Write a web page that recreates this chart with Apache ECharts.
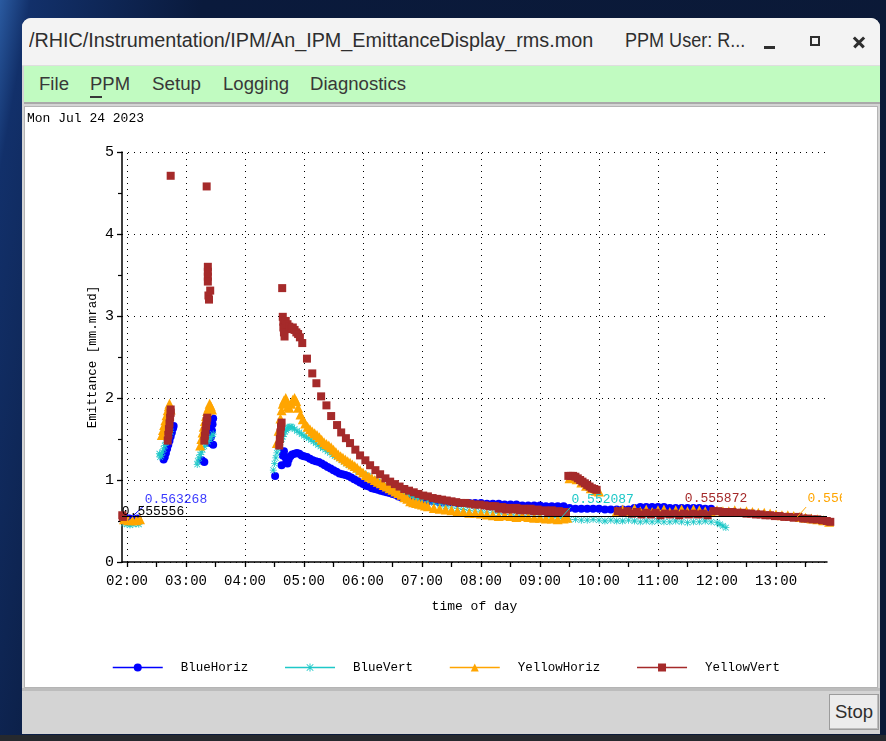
<!DOCTYPE html>
<html><head><meta charset="utf-8">
<script src="https://cdn.jsdelivr.net/npm/echarts@6/dist/echarts.min.js"></script>
<style>
html,body{margin:0;padding:0;}
body{width:886px;height:741px;overflow:hidden;position:relative;
 background:linear-gradient(100deg,#2a5aa0 0%,#12306a 3%,#0a1a3c 20%,#0b1936 100%);
 font-family:'Liberation Sans',Arial,sans-serif;}
.abs{position:absolute;}
#taskbar{left:0;top:735px;width:886px;height:6px;background:#26292e;}
#win{left:22px;top:18px;width:858px;height:716px;background:#d4d4d4;border-radius:9px 9px 0 0;overflow:hidden;}
#titlebar{left:0;top:0;width:858px;height:47px;background:#f3f3f3;border-bottom:1px solid #dedede;}
.fit{position:absolute;white-space:nowrap;transform-origin:0 50%;}
#menubar{left:2px;top:48px;width:856px;height:36px;background:#c1fbc1;border-bottom:2px solid #a9a9a9;}
#panel{left:2px;top:88px;width:852px;height:580px;background:#fff;border:1px solid #b4b4b4;}
#stop{left:807px;top:676px;width:48px;height:34px;background:#ececec;border:1px solid #9c9c9c;box-shadow:inset -1px -1px 0 #bdbdbd;}
#chart{position:absolute;left:24px;top:106px;width:818px;height:582px;}
</style></head>
<body>
<div id="taskbar" class="abs"></div>
<div id="win" class="abs">
  <div id="titlebar" class="abs">
    <span class="fit" data-w="564" style="left:7px;top:11px;font-size:20px;color:#2e2e2e;">/RHIC/Instrumentation/IPM/An_IPM_EmittanceDisplay_rms.mon</span>
    <span class="fit" data-w="120" style="left:603px;top:11px;font-size:20px;color:#2e2e2e;">PPM User: R...</span>
    <div class="abs" style="left:742px;top:28px;width:11px;height:3px;background:#2e2e2e;"></div>
    <div class="abs" style="left:788px;top:18px;width:6px;height:6px;border:2px solid #2e2e2e;"></div>
    <div class="abs" style="left:830px;top:23px;width:14px;height:2.5px;background:#2e2e2e;transform:rotate(45deg);"></div>
    <div class="abs" style="left:830px;top:23px;width:14px;height:2.5px;background:#2e2e2e;transform:rotate(-45deg);"></div>
  </div>
  <div id="menubar" class="abs">
    <span class="fit" data-w="30" style="left:15px;top:8px;font-size:18px;color:#383838;">File</span>
    <span class="fit" data-w="40" style="left:66px;top:8px;font-size:18px;color:#383838;">PPM</span>
    <div class="abs" style="left:66px;top:30px;width:12px;height:2px;background:#383838;"></div>
    <span class="fit" data-w="49" style="left:128px;top:8px;font-size:18px;color:#383838;">Setup</span>
    <span class="fit" data-w="66" style="left:199px;top:8px;font-size:18px;color:#383838;">Logging</span>
    <span class="fit" data-w="96" style="left:286px;top:8px;font-size:18px;color:#383838;">Diagnostics</span>
  </div>
  <div id="panel" class="abs"></div>
  <div class="abs" style="left:0;top:670px;width:858px;height:3px;background:#bcbcbc;"></div>
  <div id="stop" class="abs">
    <span class="fit" data-w="38" style="left:5px;top:6px;font-size:19px;color:#2e2e2e;">Stop</span>
  </div>
</div>
<div id="chart"></div>
<script>
// ---------------- data ----------------
const hourTicks = [2,3,4,5,6,7,8,9,10,11,12,13];
const halfTicks = [2,2.5,3,3.5,4,4.5,5,5.5,6,6.5,7,7.5,8,8.5,9,9.5,10,10.5,11,11.5,12,12.5,13,13.5];
const xRange = [1.915, 13.864];
const seriesNames = ['BlueHoriz','BlueVert','YellowHoriz','YellowVert'];
const refValue = 0.555556;

const blueHoriz = [
 [1.97,0.54],[2.04,0.53],[2.11,0.52],[2.18,0.53],
 [2.62,1.25],[2.64,1.28],[2.66,1.33],[2.68,1.38],[2.70,1.43],[2.72,1.48],[2.74,1.53],[2.76,1.58],[2.78,1.63],[2.79,1.66],
 [3.27,1.24],[3.31,1.22],[3.40,1.45],[3.42,1.52],[3.44,1.60],[3.45,1.68],[3.46,1.75],[3.46,1.43],
 [4.51,1.05],[4.62,1.18],[4.64,1.30],[4.66,1.35],[4.68,1.28],[4.70,1.22],[4.72,1.20],[4.74,1.25],[4.77,1.29],[4.80,1.31],
 [4.84,1.32],[4.88,1.33],[4.92,1.32],[4.96,1.30],[5.00,1.29],[5.05,1.28],[5.10,1.26],[5.15,1.24],[5.20,1.23],[5.25,1.22],
 [5.30,1.20],[5.35,1.18],[5.40,1.16],[5.45,1.14],[5.50,1.12],[5.55,1.10],[5.60,1.08],[5.65,1.07],[5.70,1.06],[5.75,1.05],
 [5.80,1.03],[5.85,1.01],[5.90,0.99],[5.95,0.97],[6.00,0.95],[6.05,0.93],[6.10,0.92],[6.15,0.90],[6.20,0.89],[6.25,0.88],
 [6.30,0.87],[6.35,0.86],[6.40,0.85],[6.45,0.84],[6.50,0.83],[6.55,0.82],[6.60,0.80],[6.65,0.79],[6.70,0.78],[6.75,0.78],
 [6.80,0.77],[6.85,0.76],[6.90,0.76],[6.95,0.75],[7.00,0.75],[7.10,0.74],[7.20,0.74],[7.30,0.73],[7.40,0.73],[7.50,0.73],
 [7.60,0.72],[7.70,0.72],[7.80,0.72],[7.90,0.72],[8.00,0.72],[8.10,0.71],[8.20,0.71],[8.30,0.71],[8.40,0.70],[8.50,0.70],
 [8.60,0.70],[8.70,0.69],[8.80,0.69],[8.90,0.69],[9.00,0.69],[9.10,0.68],[9.20,0.68],[9.30,0.68],[9.40,0.68],[9.50,0.66],
 [9.60,0.65],[9.70,0.65],[9.80,0.65],[9.90,0.65],[10.00,0.65],[10.10,0.64],[10.20,0.64],[10.30,0.64],[10.40,0.64],[10.50,0.64],
 [10.60,0.66],[10.70,0.67],[10.80,0.67],[10.90,0.67],[11.00,0.67],[11.10,0.67],[11.20,0.66],[11.30,0.66],[11.40,0.66],[11.50,0.66],
 [11.60,0.66],[11.70,0.66],[11.80,0.65],[11.90,0.65]
];
const blueVert = [
 [1.95,0.47],[2.00,0.46],[2.05,0.45],[2.10,0.46],[2.15,0.47],[2.20,0.46],
 [2.55,1.32],[2.56,1.28],[2.58,1.30],[2.60,1.34],[2.62,1.38],[2.64,1.42],[2.66,1.46],[2.68,1.50],[2.70,1.53],[2.72,1.56],[2.74,1.59],
 [3.19,1.19],[3.20,1.23],[3.22,1.27],[3.24,1.31],[3.26,1.34],[3.28,1.37],[3.31,1.41],[3.34,1.44],[3.37,1.47],[3.40,1.50],[3.43,1.53],[3.46,1.56],
 [4.48,1.12],[4.50,1.20],[4.52,1.27],[4.54,1.33],[4.56,1.38],[4.58,1.42],[4.60,1.46],[4.62,1.50],[4.64,1.53],[4.66,1.56],
 [4.68,1.59],[4.70,1.61],[4.72,1.63],[4.74,1.64],[4.76,1.65],[4.78,1.65],[4.80,1.64],[4.84,1.62],[4.88,1.60],[4.92,1.58],
 [4.96,1.56],[5.00,1.54],[5.04,1.52],[5.08,1.51],[5.12,1.49],[5.16,1.47],[5.20,1.45],[5.24,1.43],[5.28,1.41],[5.32,1.39],
 [5.36,1.37],[5.40,1.35],[5.44,1.33],[5.48,1.31],[5.52,1.29],[5.56,1.28],[5.60,1.26],[5.64,1.24],[5.68,1.22],[5.72,1.20],
 [5.76,1.18],[5.80,1.17],[5.84,1.15],[5.88,1.13],[5.92,1.11],[5.96,1.10],[6.00,1.08],[6.04,1.06],[6.08,1.05],[6.12,1.03],
 [6.16,1.01],[6.20,1.00],[6.24,0.98],[6.28,0.97],[6.32,0.95],[6.36,0.94],[6.40,0.93],[6.44,0.91],[6.48,0.90],[6.52,0.89],
 [6.56,0.88],[6.60,0.86],[6.64,0.85],[6.68,0.84],[6.72,0.83],[6.76,0.82],[6.80,0.81],[6.84,0.80],[6.88,0.79],[6.92,0.78],
 [6.96,0.77],[7.00,0.76],[7.10,0.74],[7.20,0.72],[7.30,0.70],[7.40,0.68],[7.50,0.66],[7.60,0.65],[7.70,0.64],[7.80,0.63],
 [7.90,0.62],[8.00,0.61],[8.10,0.60],[8.20,0.60],[8.30,0.59],[8.40,0.58],[8.50,0.58],[8.60,0.57],[8.70,0.57],[8.80,0.56],
 [8.90,0.56],[9.00,0.55],[9.10,0.55],[9.20,0.54],[9.30,0.54],[9.40,0.53],[9.50,0.52],[9.60,0.52],[9.70,0.51],[9.80,0.51],
 [9.90,0.52],[10.00,0.51],[10.10,0.50],[10.20,0.51],[10.30,0.50],[10.40,0.50],[10.50,0.51],[10.60,0.50],[10.70,0.49],[10.80,0.50],
 [10.90,0.49],[11.00,0.50],[11.10,0.49],[11.20,0.49],[11.30,0.50],[11.40,0.49],[11.50,0.48],[11.60,0.49],[11.70,0.49],[11.80,0.50],
 [11.90,0.49],[12.00,0.48],[12.05,0.46],[12.10,0.44],[12.15,0.42]
];
const yellowHoriz = [
 [1.95,0.52],[2.02,0.51],[2.09,0.51],[2.16,0.51],[2.22,0.52],
 [2.59,1.55],[2.61,1.61],[2.63,1.67],[2.65,1.73],[2.67,1.79],[2.69,1.85],[2.71,1.90],[2.72,1.93],[2.74,1.86],
 [3.24,1.42],[3.26,1.50],[3.28,1.58],[3.30,1.65],[3.32,1.72],[3.34,1.78],[3.36,1.84],[3.38,1.88],[3.40,1.93],[3.42,1.90],[3.44,1.86],
 [4.54,1.45],[4.57,1.60],[4.60,1.75],[4.62,1.85],[4.64,1.93],[4.66,1.97],[4.69,2.00],[4.71,1.95],[4.73,1.90],[4.75,1.88],
 [4.78,1.93],[4.81,1.98],[4.84,2.00],[4.87,1.96],[4.90,1.88],[4.94,1.80],[4.98,1.74],[5.02,1.69],[5.06,1.65],[5.10,1.62],
 [5.14,1.59],[5.18,1.57],[5.22,1.55],[5.26,1.52],[5.30,1.49],[5.34,1.46],[5.38,1.44],[5.42,1.42],[5.46,1.40],[5.50,1.37],
 [5.54,1.34],[5.58,1.31],[5.62,1.29],[5.66,1.27],[5.70,1.25],[5.74,1.23],[5.78,1.21],[5.82,1.19],[5.86,1.17],[5.90,1.15],
 [5.95,1.12],[6.00,1.09],[6.05,1.06],[6.10,1.04],[6.15,1.02],[6.20,1.00],[6.25,0.98],[6.30,0.96],[6.35,0.94],[6.40,0.92],
 [6.45,0.90],[6.50,0.88],[6.55,0.86],[6.60,0.84],[6.65,0.82],[6.70,0.79],[6.75,0.77],[6.80,0.74],[6.85,0.73],[6.90,0.72],
 [6.95,0.71],[7.00,0.70],[7.05,0.69],[7.10,0.68],[7.20,0.66],[7.30,0.65],[7.40,0.64],[7.50,0.63],[7.60,0.62],[7.70,0.61],
 [7.80,0.60],[7.90,0.60],[8.00,0.59],[8.10,0.58],[8.20,0.57],[8.30,0.56],[8.40,0.57],[8.50,0.56],[8.60,0.55],[8.70,0.56],
 [8.80,0.55],[8.90,0.54],[9.00,0.54],[9.10,0.53],[9.20,0.53],[9.30,0.52],[9.40,0.53],[9.46,0.54],
 [9.50,1.02],[9.56,1.04],[9.62,1.01],[9.70,0.97],[9.78,0.93],[9.86,0.90],[9.94,0.87],[10.00,0.86],
 [10.30,0.62],[10.40,0.64],[10.50,0.61],[10.60,0.65],[10.70,0.62],[10.80,0.64],[10.90,0.61],[11.00,0.63],[11.10,0.64],[11.20,0.61],
 [11.30,0.63],[11.40,0.64],[11.50,0.62],[11.60,0.64],[11.70,0.63],[11.80,0.62],[11.90,0.61],[12.00,0.63],[12.10,0.62],[12.20,0.62],
 [12.30,0.63],[12.40,0.61],[12.50,0.62],[12.60,0.61],[12.70,0.60],[12.80,0.60],[12.90,0.59],[13.00,0.58],[13.10,0.57],[13.20,0.57],
 [13.30,0.56],[13.40,0.55],[13.50,0.54],[13.60,0.53],[13.70,0.52],[13.80,0.51],[13.90,0.49]
];
const yellowVert = [
 [1.92,0.57],[1.93,0.55],
 [2.69,1.48],[2.70,1.55],[2.71,1.62],[2.72,1.69],[2.73,1.76],[2.74,1.82],[2.74,1.86],[2.74,4.71],
 [3.31,1.48],[3.32,1.54],[3.33,1.60],[3.34,1.66],[3.35,1.72],[3.36,1.76],[3.35,4.58],
 [3.37,3.60],[3.37,3.54],[3.37,3.48],[3.37,3.42],[3.41,3.31],[3.38,3.25],[3.39,3.20],
 [4.58,1.42],[4.59,1.50],[4.60,1.58],[4.61,1.65],[4.62,1.70],[4.63,3.34],[4.64,2.99],[4.65,2.93],[4.65,2.86],[4.66,2.80],
 [4.67,2.75],[4.69,2.94],[4.72,2.90],[4.75,2.87],[4.78,2.84],[4.81,2.86],[4.84,2.83],[4.87,2.80],[4.90,2.78],[4.93,2.74],
 [4.97,2.67],[5.05,2.48],[5.14,2.30],[5.21,2.18],[5.29,2.02],[5.38,1.91],[5.46,1.78],[5.56,1.67],[5.63,1.58],[5.71,1.51],
 [5.78,1.45],[5.87,1.37],[5.95,1.30],[6.04,1.24],[6.12,1.18],[6.21,1.12],[6.29,1.07],[6.38,1.02],[6.46,0.98],[6.54,0.95],
 [6.62,0.92],[6.70,0.89],[6.78,0.87],[6.86,0.85],[6.94,0.83],[7.02,0.81],[7.10,0.80],[7.18,0.78],[7.26,0.77],[7.34,0.76],
 [7.42,0.75],[7.50,0.74],[7.58,0.73],[7.66,0.72],[7.74,0.72],[7.82,0.71],[7.90,0.70],[7.98,0.70],[8.06,0.69],[8.14,0.68],
 [8.20,0.68],[8.24,0.68],[8.30,0.65],[8.36,0.67],[8.42,0.64],[8.48,0.66],[8.54,0.64],[8.60,0.66],[8.66,0.63],[8.72,0.65],
 [8.78,0.63],[8.84,0.65],[8.90,0.62],[8.96,0.64],[9.02,0.62],[9.08,0.63],[9.14,0.61],[9.20,0.63],[9.26,0.61],[9.32,0.62],
 [9.38,0.60],[9.44,0.61],
 [9.48,1.05],[9.52,1.05],[9.56,1.05],[9.60,1.04],[9.64,1.02],[9.68,1.00],[9.72,0.98],[9.76,0.96],[9.80,0.94],[9.84,0.92],
 [9.88,0.90],[9.92,0.89],[9.96,0.88],
 [10.32,0.62],[10.40,0.60],[10.48,0.62],[10.56,0.59],[10.64,0.61],[10.72,0.58],[10.80,0.60],[10.88,0.58],[10.96,0.60],[11.04,0.57],
 [11.12,0.59],[11.20,0.58],[11.28,0.59],[11.36,0.57],[11.44,0.59],[11.52,0.58],[11.60,0.59],[11.68,0.58],[11.76,0.59],[11.84,0.57],
 [11.94,0.62],[12.02,0.62],[12.10,0.61],[12.18,0.61],[12.26,0.61],[12.34,0.60],[12.42,0.60],[12.50,0.59],[12.58,0.59],[12.66,0.58],
 [12.74,0.58],[12.82,0.57],[12.90,0.57],[12.98,0.56],[13.06,0.56],[13.14,0.55],[13.22,0.55],[13.30,0.54],[13.38,0.55],[13.46,0.53],
 [13.54,0.53],[13.62,0.52],[13.70,0.52],[13.78,0.51],[13.86,0.50],[13.92,0.49]
];
// value annotations (text) and their anchors (time, value)
const valueLabels = ['0.555556','0.563268','0.552087','0.555872','0.556'];
const labelAnchors = [[1.92,0.62],[2.293,0.76],[9.525,0.756],[11.446,0.768],[13.525,0.768]];
const leaderLines = [ [[2.02,0.51],[2.28,0.68]], [[9.36,0.54],[9.52,0.67]], [[13.36,0.55],[13.51,0.67]] ];

// ---------------- styles ----------------
const colors = ['#0000ff','#1ec8c8','#ffa500','#a52a2a'];
const labelColors = ['#000000','#3a3aff','#1ec8c8','#a52a2a','#ffa500'];
const labelOffsets = [[-1,0],[0,0],[0,0],[0,0],[0,0]];
const leaderColors = ['#0000ff','#1ec8c8','#ffa500'];
const mono = "'Liberation Mono','DejaVu Sans Mono',monospace";
const asterisk = 'path://M4.4,0H5.6V10H4.4Z M0,4.4H10V5.6H0Z M1.3,0.5L9.5,8.7L8.7,9.5L0.5,1.3Z M8.7,0.5L9.5,1.3L1.3,9.5L0.5,8.7Z';
const symbols = ['circle', asterisk, 'triangle', 'rect'];
const sizes = [8, 7, 10, 8];
const allData = [blueHoriz, blueVert, yellowHoriz, yellowVert];

// fit window texts
document.querySelectorAll('.fit').forEach(el => {
  const w = +el.dataset.w; const a = el.offsetWidth;
  if (a > 0) el.style.transform = 'scaleX(' + (w / a) + ')';
});

const chart = echarts.init(document.getElementById('chart'), null, {renderer: 'canvas'});
const pad = v => (v < 10 ? '0' : '') + Math.round(v) + ':00';

const dataSeries = seriesNames.map((n, i) => ({
  name: n, type: 'line', data: allData[i], symbol: symbols[i], symbolSize: sizes[i],
  showSymbol: true, showAllSymbol: true, clip: false, z: 10,
  lineStyle: {width: 0, opacity: 0}, itemStyle: {color: colors[i], opacity: 1},
  emphasis: {disabled: true}, animation: false
}));

const option = {
  animation: false,
  title: {text: 'Mon Jul 24 2023', left: 3, top: 6, padding: 0,
    textStyle: {fontFamily: mono, fontSize: 13, fontWeight: 'normal', color: '#000'}},
  grid: {left: 98, right: 15, top: 46, bottom: 126},
  legend: {
    left: 83, top: 550, itemWidth: 50, itemHeight: 10, itemGap: 36, selectedMode: false,
    textStyle: {fontFamily: mono, fontSize: 12.5, color: '#000', padding: [0, 0, 0, 13]},
    data: seriesNames.map((n, i) => ({name: n,
      lineStyle: {color: colors[i], width: 1.5, opacity: 1, type: 'solid'},
      itemStyle: {color: colors[i], opacity: 1}}))
  },
  xAxis: {
    type: 'value', min: xRange[0], max: xRange[1],
    name: 'time of day', nameLocation: 'middle', nameGap: 38, nameMoveOverlap: false,
    nameTextStyle: {fontFamily: mono, fontSize: 13, color: '#000'},
    axisLine: {show: true, onZero: false, lineStyle: {color: '#000', width: 1.5}},
    axisTick: {show: true, customValues: halfTicks, length: 5, lineStyle: {color: '#000', width: 1.3}},
    axisLabel: {customValues: hourTicks, formatter: pad, fontFamily: mono, fontSize: 14, color: '#000', margin: 12},
    splitLine: {show: false}
  },
  yAxis: {
    type: 'value', min: 0, max: 5, interval: 1,
    name: 'Emittance [mm.mrad]', nameLocation: 'middle', nameGap: 23, nameMoveOverlap: false,
    nameTextStyle: {fontFamily: mono, fontSize: 12.5, color: '#000'},
    axisLine: {show: true, lineStyle: {color: '#000', width: 1.5}},
    axisTick: {show: true, length: 5, lineStyle: {color: '#000', width: 1.3}},
    minorTick: {show: true, splitNumber: 2, length: 4, lineStyle: {color: '#000', width: 1.2}},
    axisLabel: {fontFamily: mono, fontSize: 15, color: '#000', margin: 8},
    splitLine: {show: true, lineStyle: {type: [1, 5], color: '#000', width: 1}}
  },
  series: [
    {name: 'grid', type: 'line', data: [], z: 1, silent: true,
     markLine: {silent: true, z: 1, symbol: ['none', 'none'], label: {show: false}, animation: false,
       lineStyle: {type: [1, 5], color: '#000', width: 1},
       data: hourTicks.map(h => ({xAxis: h}))}},
    ...dataSeries,
    {name: 'ref', type: 'line', data: [], z: 30, silent: true,
     markLine: {silent: true, z: 30, symbol: ['none', 'none'], label: {show: false}, animation: false,
       data: [{yAxis: refValue, lineStyle: {color: '#000', width: 1.2, type: 'solid'}}]
         .concat(leaderLines.map((p, i) => [
           {coord: p[0], lineStyle: {color: leaderColors[i], width: 1, type: 'solid'}},
           {coord: p[1]}]))},
     markPoint: {silent: true, z: 30, symbol: 'circle', symbolSize: 1, animation: false,
       itemStyle: {color: 'rgba(0,0,0,0)'},
       data: valueLabels.map((s, i) => ({coord: labelAnchors[i], value: 0,
         label: {show: true, position: 'right', distance: 0, offset: labelOffsets[i], formatter: () => s,
           fontFamily: mono, fontSize: 13, color: labelColors[i]}}))}}
  ]
};
chart.setOption(option);
</script>
</body></html>
